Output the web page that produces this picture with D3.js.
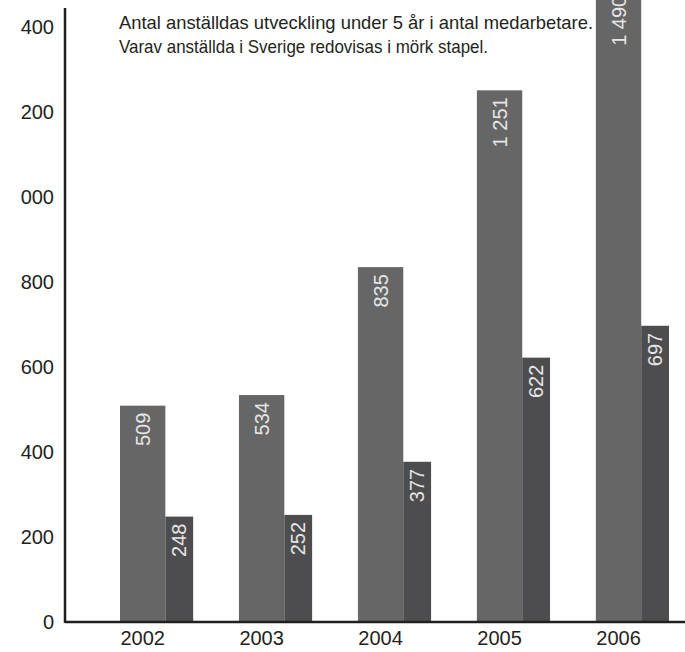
<!DOCTYPE html>
<html>
<head>
    <meta charset="utf-8">
    <title>Antal anställda</title>
    <script src="https://d3js.org/d3.v7.min.js"></script>
    <style>
        body { margin: 0; background: #fff; }
        svg { display: block; }
        text { font-family: "Liberation Sans", Arial, sans-serif; fill: #231f20; }
        .tick line, .domain { display: none; }
        .tick text { font-size: 20px; }
        .val { fill: #e6e6e6; font-size: 20px; }
    </style>
</head>
<body>
    <svg width="685" height="652"></svg>
    <script>
        const years = ["2002", "2003", "2004", "2005", "2006"];
        const total = [509, 534, 835, 1251, 1490];
        const sweden = [248, 252, 377, 622, 697];
        const totalLabels = ["509", "534", "835", "1 251", "1 490"];
        const swedenLabels = ["248", "252", "377", "622", "697"];
        const tickValues = [0, 200, 400, 600, 800, 1000, 1200, 1400];
        const tickLabels = ["0", "200", "400", "600", "800", "000", "200", "400"];
        const titleLines = [
            "Antal anställdas utveckling under 5 år i antal medarbetare.",
            "Varav anställda i Sverige redovisas i mörk stapel."
        ];

        const svg = d3.select("svg");
        const W = 685;
        const axisX = 65;

        const y = d3.scaleLinear().domain([0, 1400]).range([622, 27]);

        const x = d3.scaleBand()
            .domain(years)
            .range([120, 669])
            .paddingInner(0.385)
            .paddingOuter(0);

        const lightW = x.bandwidth() * 0.62;
        const darkW = x.bandwidth() - lightW;

        // bars
        svg.selectAll(".bar-total")
            .data(years)
            .enter().append("rect")
            .attr("x", d => x(d))
            .attr("y", (d, i) => y(total[i]))
            .attr("width", lightW)
            .attr("height", (d, i) => y(0) - y(total[i]))
            .attr("fill", "#666666");

        svg.selectAll(".bar-sweden")
            .data(years)
            .enter().append("rect")
            .attr("x", d => x(d) + lightW)
            .attr("y", (d, i) => y(sweden[i]))
            .attr("width", darkW)
            .attr("height", (d, i) => y(0) - y(sweden[i]))
            .attr("fill", "#4d4d4f");

        // value labels, rotated
        function valueLabels(vals, labels, off, w) {
            svg.append("g").selectAll("text")
                .data(years)
                .enter().append("text")
                .attr("class", "val")
                .attr("text-anchor", "end")
                .attr("dominant-baseline", "central")
                .attr("transform", (d, i) =>
                    `translate(${x(d) + off + w / 2},${y(vals[i]) + 7}) rotate(-90)`)
                .text((d, i) => labels[i]);
        }
        valueLabels(total, totalLabels, 0, lightW);
        valueLabels(sweden, swedenLabels, lightW, darkW);

        // y axis labels
        svg.append("g")
            .attr("transform", `translate(${axisX - 11},0)`)
            .call(d3.axisLeft(y)
                .tickValues(tickValues)
                .tickSize(0)
                .tickPadding(0)
                .tickFormat((d, i) => tickLabels[i]));

        // axis lines
        svg.append("line")
            .attr("x1", axisX).attr("x2", axisX)
            .attr("y1", 8).attr("y2", y(0) + 1)
            .attr("stroke", "#231f20").attr("stroke-width", 2.5);
        svg.append("line")
            .attr("x1", axisX).attr("x2", W)
            .attr("y1", y(0)).attr("y2", y(0))
            .attr("stroke", "#231f20").attr("stroke-width", 2.5);

        // year labels
        svg.selectAll(".year")
            .data(years)
            .enter().append("text")
            .attr("x", d => x(d) + lightW / 2)
            .attr("y", 645)
            .attr("text-anchor", "middle")
            .attr("font-size", 20)
            .text(d => d);

        // title, condensed to the reference width
        const titleWidths = [474, 369];
        svg.selectAll(".title")
            .data(titleLines)
            .enter().append("text")
            .attr("x", 119)
            .attr("y", (d, i) => 29 + i * 24)
            .attr("font-size", 18.5)
            .attr("textLength", (d, i) => titleWidths[i])
            .attr("lengthAdjust", "spacingAndGlyphs")
            .text(d => d);
    </script>
</body>
</html>
